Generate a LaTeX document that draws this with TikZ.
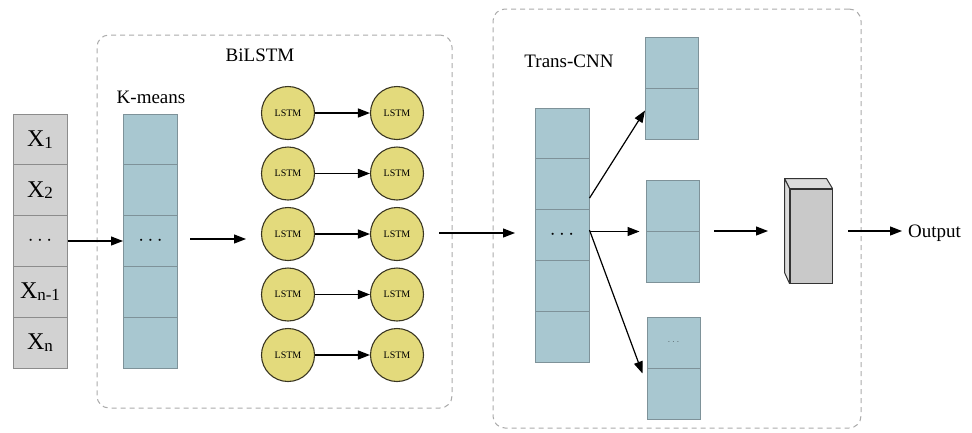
\documentclass[tikz,border=0pt]{standalone}
\usepackage{fontspec}
\setmainfont{Liberation Serif}
\usetikzlibrary{arrows.meta,calc}

\definecolor{cellgray}{HTML}{D2D2D2}
\definecolor{cellgrayline}{HTML}{8C8C8C}
\definecolor{cellblue}{HTML}{A8C7D0}
\definecolor{cellblueline}{HTML}{7E9299}
\definecolor{lstmfill}{HTML}{E3DA7C}
\definecolor{lstmline}{HTML}{3A3622}
\definecolor{groupline}{HTML}{ABABAB}
\definecolor{cubefront}{HTML}{C9C9C9}
\definecolor{cubeside}{HTML}{DCDCDC}

\tikzset{
  graycell/.style={draw=cellgrayline, fill=cellgray, line width=1pt,
    minimum width=54pt, minimum height=50.8pt, inner sep=0pt},
  bluecell/.style={draw=cellblueline, fill=cellblue, line width=1pt,
    minimum width=54pt, minimum height=50.8pt, inner sep=0pt},
  smallcell/.style={draw=cellblueline, fill=cellblue, line width=1pt,
    minimum width=53pt, minimum height=51pt, inner sep=0pt},
  lstm/.style={circle, draw=lstmline, fill=lstmfill, line width=1.1pt,
    minimum size=53pt, inner sep=0pt, font=\fontsize{10}{10}\selectfont},
  groupbox/.style={draw=groupline, line width=1pt, dash pattern=on 5pt off 4pt,
    rounded corners=12pt, inner sep=0pt},
  arr/.style={line width=1.2pt, -{Triangle[length=12pt,width=9pt]}},
  title/.style={font=\fontsize{19}{19}\selectfont, inner sep=0pt},
  xlab/.style={font=\fontsize{24}{24}\selectfont},
}
\newcommand{\xsub}[1]{X{\fontsize{17}{17}\selectfont\raisebox{-1.5pt}{#1}}}
\newcommand{\bigdots}{{\fontsize{20}{20}\selectfont$\cdots$}}

\begin{document}
\begin{tikzpicture}[x=1pt,y=-1pt]
\useasboundingbox (0,0) rectangle (972,432);

% group frames
\node[groupbox, minimum width=355pt, minimum height=373pt] (bilbox) at (274.5,221.5) {};
\node[groupbox, minimum width=368pt, minimum height=419pt] (tcbox) at (677,218.5) {};

% titles
\node[title] (biltitle) at (260,55) {BiLSTM};
\node[title] (kmtitle) at (151,97.5) {K-means};
\node[title] (tctitle) at (569,61) {Trans-CNN};

% input sequence
\foreach \i/\t in {1/{\xsub{1}},2/{\xsub{2}},3/{\bigdots},4/{\xsub{n-1}},5/{\xsub{n}}}{
  \node[graycell, xlab] (in\i) at (40,{114+50.8*(\i-0.5)}) {\t};
}

% K-means column
\foreach \i in {1,...,5}{
  \node[bluecell] (km\i) at (150.5,{114+50.8*(\i-0.5)}) {};
}
\node at (km3) {\bigdots};

% LSTM pairs
\foreach \i/\y in {1/113,2/173.5,3/234,4/294.5,5/355}{
  \node[lstm] (la\i) at (288,\y) {LSTM};
  \node[lstm] (lb\i) at (397,\y) {LSTM};
  \draw[arr] (la\i) -- (lb\i);
}

% Trans-CNN column
\foreach \i in {1,...,5}{
  \node[bluecell] (tc\i) at (562,{108+50.8*(\i-0.5)}) {};
}
\node at (tc3) {\bigdots};

% branch outputs
\node[smallcell] (ra1) at (672,62.5) {};
\node[smallcell] (rb1) at (672,113.5) {};
\node[smallcell] (ra2) at (672.5,205.5) {};
\node[smallcell] (rb2) at (672.5,256.5) {};
\node[smallcell] (ra3) at (673.5,342.5) {};
\node[smallcell] (rb3) at (673.5,393.5) {};
\node[text=cellblueline!70!black] at (ra3) {{\fontsize{10}{10}\selectfont$\cdots$}};

% output block (front face, then top and side)
\node[draw=black!80, fill=cubefront, line width=1pt, minimum width=42pt,
  minimum height=94pt, inner sep=0pt] (cube) at (811,236) {};
\draw[draw=black!80, fill=cubeside, line width=1pt, line join=round]
  (cube.north west) -- ++(-5,-10) -- ++(42,0) -- (cube.north east) -- cycle;
\draw[draw=black!80, fill=cubeside, line width=1pt, line join=round]
  (cube.north west) -- ++(-5,-10) -- ++(0,94) -- (cube.south west) -- cycle;

\node[title, anchor=base west] (out) at (908,237) {Output};

% connectors
\coordinate (k1) at (190,239);
\coordinate (k2) at (246,239);
\coordinate (m1) at (439,233);
\coordinate (m2) at (515,233);
\coordinate (c1) at (714,231);
\coordinate (c2) at (768,231);
\coordinate (o1) at (848,231);

\draw[arr] (in3.east) -- (km3.west);
\draw[arr] (k1) -- (k2);
\draw[arr] (m1) -- (m2);
\draw[arr] ([yshift=11pt]tc3.north east) -- ([yshift=3pt]rb1.west);
\draw[arr] (tc3.east |- ra2.south) -- ([xshift=-6pt]ra2.south west);
\draw[arr] ([yshift=-21pt]tc3.north east) -- ([xshift=-4pt,yshift=-5pt]ra3.south west);
\draw[arr] (c1) -- (c2);
\draw[arr] (o1) -- ([xshift=-6pt]out.west |- o1);
\end{tikzpicture}
\end{document}
